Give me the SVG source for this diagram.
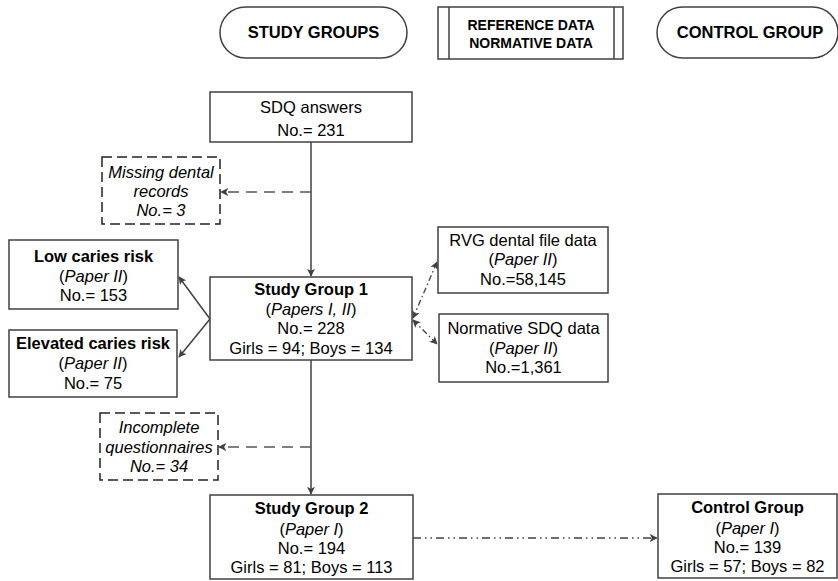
<svg xmlns="http://www.w3.org/2000/svg" width="838" height="581" viewBox="0 0 838 581">
  <style>
    text { font-family: "Liberation Sans", Arial, sans-serif; font-size: 16.5px; fill: #000; text-anchor: middle; }
    .b { font-weight: bold; }
    .i { font-style: italic; }
    .hdr { font-size: 14px; font-weight: bold; }
    .box { fill: #fff; stroke: #404040; stroke-width: 1.5; }
    .dbox { fill: #fff; stroke: #222; stroke-width: 1.5; stroke-dasharray: 10 5; }
    .line { fill: none; stroke: #404040; stroke-width: 1.5; }
    .dash { fill: none; stroke: #555; stroke-width: 1.5; stroke-dasharray: 11 7; }
    .dotdash { fill: none; stroke: #404040; stroke-width: 1.3; stroke-dasharray: 6 3 1.5 3; }
    .ctrl { fill: none; stroke: #404040; stroke-width: 1.3; stroke-dasharray: 8 4 1.5 4 1.5 4; }
  </style>
  <defs>
    <marker id="arr" viewBox="0 0 10 10" refX="9" refY="5" markerWidth="8" markerHeight="8" markerUnits="userSpaceOnUse" orient="auto-start-reverse">
      <path d="M0,0 L10,5 L0,10 L2.5,5 Z" fill="#404040"/>
    </marker>
  </defs>

  <!-- column headers -->
  <g id="hdr-study">
    <rect x="220" y="7" width="187" height="51" rx="25.5" class="box"/>
    <text x="313.5" y="38" class="b">STUDY GROUPS</text>
  </g>
  <g id="hdr-reference">
    <rect x="438" y="7" width="185" height="52" class="box"/>
    <line x1="449" y1="7" x2="449" y2="59" class="line"/>
    <line x1="614" y1="7" x2="614" y2="59" class="line"/>
    <text x="531" y="30" class="hdr">REFERENCE DATA</text>
    <text x="531" y="48" class="hdr">NORMATIVE DATA</text>
  </g>
  <g id="hdr-control">
    <rect x="657" y="7" width="181" height="51" rx="25.5" class="box"/>
    <text x="750" y="38" class="b">CONTROL GROUP</text>
  </g>

  <!-- connectors -->
  <g id="connectors">
    <line x1="311" y1="142" x2="311" y2="276" class="line" marker-end="url(#arr)"/>
    <line x1="311" y1="192" x2="221" y2="192" class="dash" marker-end="url(#arr)"/>
    <line x1="210" y1="319" x2="179" y2="277" class="line" marker-end="url(#arr)"/>
    <line x1="210" y1="319" x2="179" y2="357" class="line" marker-end="url(#arr)"/>
    <line x1="413" y1="318" x2="437" y2="262" class="dotdash" marker-start="url(#arr)" marker-end="url(#arr)"/>
    <line x1="413" y1="320" x2="437" y2="344" class="dotdash" marker-start="url(#arr)" marker-end="url(#arr)"/>
    <line x1="311" y1="360" x2="311" y2="494" class="line" marker-end="url(#arr)"/>
    <line x1="311" y1="447" x2="219" y2="447" class="dash" marker-end="url(#arr)"/>
    <line x1="413" y1="538" x2="657" y2="538" class="ctrl" marker-end="url(#arr)"/>
  </g>

  <!-- nodes -->
  <g id="sdq-answers">
    <rect x="210" y="92" width="202" height="50" class="box"/>
    <text x="311" y="113">SDQ answers</text>
    <text x="311" y="136">No.= 231</text>
  </g>
  <g id="missing-dental">
    <rect x="102" y="157" width="118" height="67" class="dbox"/>
    <text x="161" y="178" class="i">Missing dental</text>
    <text x="161" y="197" class="i">records</text>
    <text x="161" y="216" class="i">No.= 3</text>
  </g>
  <g id="low-risk">
    <rect x="9" y="240" width="169" height="69" class="box"/>
    <text x="93.5" y="262" class="b">Low caries risk</text>
    <text x="93.5" y="281.5">(<tspan class="i">Paper II</tspan>)</text>
    <text x="93.5" y="301">No.= 153</text>
  </g>
  <g id="elevated-risk">
    <rect x="9" y="330" width="168" height="67" class="box"/>
    <text x="93" y="349" class="b">Elevated caries risk</text>
    <text x="93" y="369">(<tspan class="i">Paper II</tspan>)</text>
    <text x="93" y="389">No.= 75</text>
  </g>
  <g id="study-group-1">
    <rect x="210" y="277" width="202" height="83" class="box"/>
    <text x="311" y="295" class="b">Study Group 1</text>
    <text x="311" y="315">(<tspan class="i">Papers I, II</tspan>)</text>
    <text x="311" y="334">No.= 228</text>
    <text x="311" y="354">Girls = 94; Boys = 134</text>
  </g>
  <g id="rvg-data">
    <rect x="438" y="227" width="170" height="66" class="box"/>
    <text x="523" y="246">RVG dental file data</text>
    <text x="523" y="265">(<tspan class="i">Paper II</tspan>)</text>
    <text x="523" y="285">No.=58,145</text>
  </g>
  <g id="normative-sdq">
    <rect x="439" y="314" width="169" height="68" class="box"/>
    <text x="523.5" y="334">Normative SDQ data</text>
    <text x="523.5" y="354">(<tspan class="i">Paper II</tspan>)</text>
    <text x="523.5" y="373">No.=1,361</text>
  </g>
  <g id="incomplete-q">
    <rect x="100" y="413" width="118" height="67" class="dbox"/>
    <text x="159" y="433" class="i">Incomplete</text>
    <text x="159" y="453" class="i">questionnaires</text>
    <text x="159" y="472" class="i">No.= 34</text>
  </g>
  <g id="study-group-2">
    <rect x="210" y="495" width="203" height="84" class="box"/>
    <text x="311.5" y="514" class="b">Study Group 2</text>
    <text x="311.5" y="535">(<tspan class="i">Paper I</tspan>)</text>
    <text x="311.5" y="554">No.= 194</text>
    <text x="311.5" y="573">Girls = 81; Boys = 113</text>
  </g>
  <g id="control-group">
    <rect x="658" y="494" width="179" height="84" class="box"/>
    <text x="747.5" y="513" class="b">Control Group</text>
    <text x="747.5" y="534">(<tspan class="i">Paper I</tspan>)</text>
    <text x="747.5" y="553">No.= 139</text>
    <text x="747.5" y="572">Girls = 57; Boys = 82</text>
  </g>
</svg>
